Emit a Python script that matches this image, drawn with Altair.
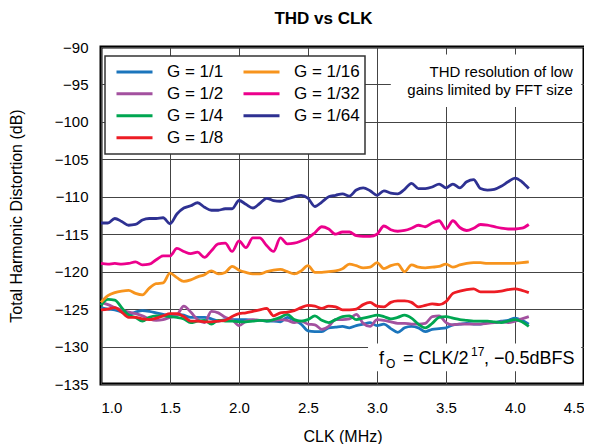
import altair as alt
import pandas as pd

FONT = "Liberation Sans"

# ---- data ----
clk_mhz = [1.00, 1.05, 1.10, 1.15, 1.20, 1.25, 1.30, 1.35, 1.40, 1.45,
           1.50, 1.55, 1.60, 1.65, 1.70, 1.75, 1.80, 1.85, 1.90, 1.95,
           2.00, 2.05, 2.10, 2.15, 2.20, 2.25, 2.30, 2.35, 2.40, 2.45,
           2.50, 2.55, 2.60, 2.65, 2.70, 2.75, 2.80, 2.85, 2.90, 2.95,
           3.00, 3.05, 3.10, 3.15, 3.20, 3.25, 3.30, 3.35, 3.40, 3.45,
           3.50, 3.55, 3.60, 3.65, 3.70, 3.75, 3.80, 3.85, 3.90, 3.95,
           4.00, 4.05, 4.10]

thd_g1 = [-124.8, -125.0, -125.1, -125.4, -125.7, -125.4, -125.2, -125.3, -125.5, -125.7,
          -125.9, -125.7, -125.8, -126.1, -126.1, -126.1, -126.3, -126.6, -126.4, -126.4,
          -126.4, -126.4, -126.5, -126.5, -126.6, -126.6, -126.7, -126.1, -126.5, -127.0,
          -127.9, -128.0, -128.0, -127.5, -127.4, -127.3, -127.5, -127.2, -127.0, -126.8,
          -127.2, -127.0, -127.6, -128.1, -127.5, -127.3, -127.5, -128.0, -127.7, -127.6,
          -127.5, -127.1, -127.0, -126.9, -127.0, -127.0, -126.8, -126.8, -126.6, -126.5,
          -126.2, -126.5, -127.0]

thd_g2 = [-124.1, -124.4, -124.8, -125.1, -125.4, -125.6, -125.9, -126.3, -126.5, -126.4,
          -126.1, -125.8, -124.6, -125.4, -126.4, -126.8, -125.3, -125.5, -126.1, -126.4,
          -127.2, -126.6, -126.4, -126.5, -126.5, -126.5, -126.4, -126.5, -126.8, -126.6,
          -127.0, -127.1, -127.7, -127.3, -126.4, -126.4, -126.3, -125.7, -126.9, -127.3,
          -126.4, -126.5, -126.7, -126.9, -126.9, -127.0, -127.0, -126.9, -126.0, -125.9,
          -126.8, -127.1, -127.0, -127.0, -127.0, -127.0, -126.9, -126.8, -126.7, -126.8,
          -126.6, -126.3, -126.0]

thd_g4 = [-124.5, -123.7, -123.8, -124.8, -125.8, -126.1, -126.6, -126.1, -125.9, -125.9,
          -126.0, -126.1, -126.3, -126.8, -126.6, -126.5, -127.0, -126.5, -126.6, -126.6,
          -126.7, -126.7, -126.6, -126.5, -126.6, -126.4, -126.1, -125.7, -126.4, -126.6,
          -126.4, -125.9, -126.5, -126.8, -126.4, -126.0, -125.9, -126.4, -126.2, -126.0,
          -125.8, -126.0, -126.3, -126.1, -125.8, -126.2, -127.0, -127.5, -126.9, -126.1,
          -126.0, -126.2, -126.4, -126.5, -126.6, -126.6, -126.6, -126.7, -126.8, -126.6,
          -126.4, -126.7, -127.3]

thd_g8 = [-125.1, -125.0, -124.8, -125.4, -126.1, -126.1, -126.3, -126.4, -126.2, -125.9,
          -125.6, -125.6, -126.0, -126.6, -126.6, -126.7, -126.7, -126.6, -126.5, -126.0,
          -125.6, -125.5, -125.3, -125.1, -124.9, -125.9, -125.5, -125.4, -125.2, -124.8,
          -124.5, -124.6, -124.9, -124.6, -124.7, -125.1, -125.1, -125.0, -124.4, -124.1,
          -124.6, -124.7, -124.1, -123.9, -123.9, -124.1, -124.7, -124.5, -124.3, -124.4,
          -124.0, -122.9, -122.6, -122.4, -122.3, -122.7, -122.7, -122.7, -122.6, -122.4,
          -122.3, -122.5, -122.8]

thd_g16 = [-124.1, -123.2, -122.8, -122.6, -122.5, -122.9, -123.1, -122.2, -121.6, -121.5,
           -120.2, -120.8, -121.3, -121.1, -120.7, -120.4, -119.9, -120.3, -120.1, -119.3,
           -119.8, -120.1, -120.3, -120.3, -120.0, -119.8, -119.7, -120.0, -120.3, -119.9,
           -119.2, -120.1, -120.1, -120.0, -119.9, -119.6, -119.0, -119.2, -119.5, -119.4,
           -118.8, -119.6, -119.2, -119.0, -120.0, -119.1, -119.4, -119.5, -119.4, -119.3,
           -119.0, -119.4, -119.1, -118.9, -118.8, -118.8, -118.9, -118.9, -118.9, -118.9,
           -118.9, -118.8, -118.7]

thd_g32 = [-118.9, -119.0, -118.9, -119.0, -118.9, -118.7, -119.1, -119.0, -118.4, -117.9,
           -117.9, -116.9, -117.3, -117.6, -117.4, -118.1, -117.2, -116.3, -116.2, -117.3,
           -115.9, -116.8, -115.5, -115.5, -116.5, -117.3, -115.5, -116.3, -116.2, -115.9,
           -115.5, -114.8, -114.0, -114.3, -115.0, -114.7, -114.7, -115.2, -115.3, -115.3,
           -115.0, -113.9, -114.4, -114.6, -114.5, -114.2, -113.8, -114.0, -113.5, -113.2,
           -114.3, -113.2, -114.1, -114.5, -114.2, -113.7, -113.8, -114.0, -114.2, -114.3,
           -114.3, -114.2, -113.7]

thd_g64 = [-113.5, -113.5, -112.9, -113.3, -113.8, -113.7, -113.1, -112.9, -112.9, -112.8,
           -113.6, -112.3, -111.5, -111.2, -110.8, -111.4, -111.8, -111.8, -111.6, -111.6,
           -110.5, -111.0, -111.5, -110.9, -110.2, -110.5, -110.6, -110.3, -110.0, -109.8,
           -110.2, -111.3, -110.7, -110.0, -109.8, -109.6, -109.9, -109.1, -108.8, -109.2,
           -109.8, -109.2, -109.5, -109.6, -109.0, -108.2, -108.9, -108.9, -108.7, -108.3,
           -108.8, -108.3, -108.8, -108.0, -107.7, -108.9, -109.1, -109.0, -108.6, -108.0,
           -107.5, -108.0, -108.9]

series_labels = ["G = 1/1", "G = 1/2", "G = 1/4", "G = 1/8", "G = 1/16", "G = 1/32", "G = 1/64"]
series_colors = ["#1B75BC", "#A3519F", "#00A651", "#ED1C24", "#F7941D", "#EC008C", "#2E3192"]
series_values = [thd_g1, thd_g2, thd_g4, thd_g8, thd_g16, thd_g32, thd_g64]

x_ticks = [1.0, 1.5, 2.0, 2.5, 3.0, 3.5, 4.0, 4.5]
y_ticks = [-135, -130, -125, -120, -115, -110, -105, -100, -95, -90]

note_lines = ["THD resolution of low", "gains limited by FFT size"]
note_clk = [4.42, 4.42]
note_thd = [-93.3, -95.75]

fo_texts = ["f", "O", "= CLK/2", "17", ", \u22120.5dBFS"]

# white backing boxes behind the two annotations
box_clk = [3.10, 2.935]
box_clk2 = [4.48, 4.48]
box_thd = [-91.0, -129.6]
box_thd2 = [-98.0, -133.3]

# ---- build tables ----
rows = []
for label, vals in zip(series_labels, series_values):
    for x, v in zip(clk_mhz, vals):
        rows.append({"clk": x, "thd": v, "gain": label})
df = pd.DataFrame(rows)

x_scale = alt.Scale(domain=[1.0, 4.5], nice=False, zero=False)
y_scale = alt.Scale(domain=[-135, -90], nice=False, zero=False)

x_enc = alt.X("clk:Q", scale=x_scale,
              axis=alt.Axis(values=x_ticks, format=".1f", title="CLK (MHz)",
                            labelPadding=16, titlePadding=13))
y_enc = alt.Y("thd:Q", scale=y_scale,
              axis=alt.Axis(values=y_ticks, title="Total Harmonic Distortion (dB)",
                            labelPadding=13, titlePadding=30))

boxes_df = pd.DataFrame({"clk": box_clk, "clk2": box_clk2, "thd": box_thd, "thd2": box_thd2})
boxes = alt.Chart(boxes_df).mark_rect(fill="white").encode(
    x=x_enc, x2=alt.X2("clk2"), y=y_enc, y2=alt.Y2("thd2"))

lines = alt.Chart(df).mark_line(strokeWidth=2.8, interpolate="monotone").encode(
    x=x_enc, y=y_enc,
    color=alt.Color("gain:N", sort=series_labels,
                    scale=alt.Scale(domain=series_labels, range=series_colors),
                    legend=alt.Legend(title=None, orient="none", legendX=4, legendY=9,
                                      columns=2, columnPadding=13, rowPadding=0,
                                      symbolType="stroke", symbolSize=1296,
                                      symbolStrokeWidth=3, clipHeight=21.7,
                                      labelFontSize=17, labelOffset=13, symbolOffset=5,
                                      padding=5, strokeColor="#333", fillColor="white",
                                      labelFont=FONT, labelColor="black")),
)

note_df = pd.DataFrame({"clk": note_clk, "thd": note_thd, "txt": note_lines})
note = alt.Chart(note_df).mark_text(align="right", baseline="middle", fontSize=15,
                                     font=FONT, color="black").encode(
    x=x_enc, y=y_enc, text="txt:N")

fo_layout = [  # (dx, dy, fontSize)
    (2, 0, 18), (9, 4, 12), (26, 0, 18), (94, -8, 12), (107, 0, 18)]
fo_layers = []
for t, (dx, dy, fs) in zip(fo_texts, fo_layout):
    d = pd.DataFrame({"clk": [3.0], "thd": [-132.3], "txt": [t]})
    fo_layers.append(
        alt.Chart(d).mark_text(align="left", baseline="alphabetic", dx=dx, dy=dy,
                               fontSize=fs, font=FONT, color="black").encode(
            x=x_enc, y=y_enc, text="txt:N"))

chart = alt.layer(boxes, lines, note, *fo_layers).properties(
    width=483, height=337,
    title=alt.TitleParams("THD vs CLK", fontSize=17, fontWeight="bold", font=FONT,
                          color="black", anchor="middle", dx=-19, offset=12),
    padding={"left": 0, "right": 0, "top": 2, "bottom": 0},
).configure_view(stroke="black", strokeWidth=3).configure_axis(
    grid=True, gridColor="#444", gridWidth=1, ticks=False, tickSize=0, domain=False,
    labelFont=FONT, titleFont=FONT, labelFontSize=15, titleFontSize=16,
    titleFontWeight="normal", labelColor="black", titleColor="black",
).configure_legend(strokeWidth=1.5)

chart.save("out.html", embed_options={"renderer": "svg", "actions": False})
